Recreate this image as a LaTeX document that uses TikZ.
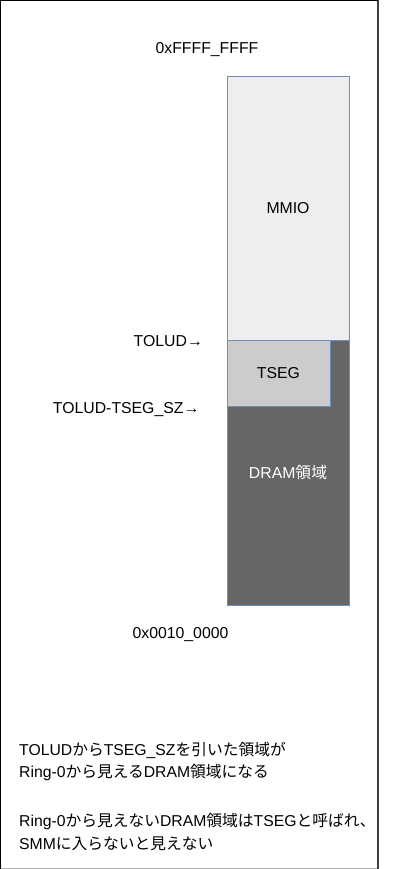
\documentclass[tikz,border=0pt]{standalone}
\usepackage{fontspec}
\setmainfont{Liberation Sans}
\newfontfamily\cjk{Noto Sans CJK JP}
\definecolor{edgeblue}{HTML}{6C8EBF}
\definecolor{mmiofill}{HTML}{EEEEEE}
\definecolor{dramfill}{HTML}{666666}
\definecolor{tsegfill}{HTML}{CCCCCC}
\begin{document}
\begin{tikzpicture}[x=1pt,y=-1pt,
  region/.style={draw=edgeblue, line width=0.8pt, inner sep=0pt, font=\fontsize{15.8}{18}\selectfont},
  lbl/.style={inner sep=0pt, font=\fontsize{15.8}{18}\selectfont},
  note/.style={inner sep=0pt, anchor=base west, font=\fontsize{15.75}{18}\selectfont}]
\useasboundingbox (0,0) rectangle (406,869);
% frame
\draw[draw=gray!60, line width=0.6pt] (0.5,868.5) -- (378,868.5);
\draw[draw=black!75, line width=1.6pt] (378,0) -- (378,869);
\draw[draw=black, line width=1.2pt] (0,0.6) -- (378,0.6);
\draw[draw=black, line width=1.2pt] (0.6,0) -- (0.6,869);
% regions
\node[region, fill=dramfill, text=white, minimum width=122pt, minimum height=265pt] (dram) at (288,472.5) {DRAM{\cjk 領域}};
\node[region, fill=mmiofill, minimum width=122pt, minimum height=264pt] (mmio) at (288,208) {MMIO};
\node[region, fill=tsegfill, minimum width=103pt, minimum height=66pt] (tseg) at (278.5,373) {TSEG};
% address labels
\node[lbl, anchor=base] (top) at (207,54) {0xFFFF\_FFFF};
\node[lbl, anchor=base east] (tolud) at (203,346.5) {TOLUD→};
\node[lbl, anchor=base east] (toludsz) at (199.5,413) {TOLUD-TSEG\_SZ→};
\node[lbl, anchor=base] (bottom) at (180.5,638.5) {0x0010\_0000};
% notes
\node[note] (n1) at (19,755) {TOLUD{\cjk から}TSEG\_SZ{\cjk を引いた領域が}};
\node[note] (n2) at (19,777.5) {Ring-0{\cjk から見える}DRAM{\cjk 領域になる}};
\node[note] (n3) at (19,826.5) {Ring-0{\cjk から見えない}DRAM{\cjk 領域は}TSEG{\cjk と呼ばれ、}};
\node[note] (n4) at (19,849) {SMM{\cjk に入らないと見えない}};
\end{tikzpicture}
\end{document}
